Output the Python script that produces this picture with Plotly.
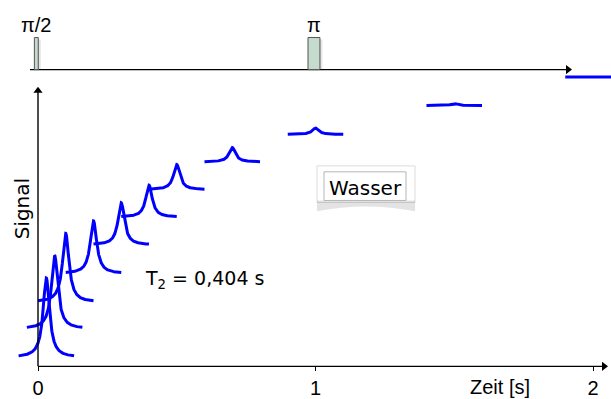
import numpy as np
import plotly.graph_objects as go

# ---- data ----
times = [0.03, 0.06, 0.1, 0.2, 0.3, 0.4, 0.5, 0.7, 1.0, 1.5, 2.0]          # s
baselines = [0.32, 1.34, 2.29, 3.31, 4.33, 5.32, 6.30, 7.29, 8.27, 9.30, 10.32]
peak_heights = [2.83, 2.62, 2.45, 1.88, 1.50, 1.14, 0.90, 0.51, 0.23, 0.07, 0.02]
tick_vals = [0, 1, 2]
tick_text = ["0", "1", "2"]
pulse_labels = ["π/2", "π"]
pulse_x0 = [-0.013, 0.973]
pulse_x1 = [0.001, 1.016]
spec_half_span = 0.1
spec_hwhm = 0.014
t2_text = "T<sub>2</sub> = 0,404 s"
sample_text = "Wasser"

# ---- pixel helpers for layout (decoration placement only) ----
X0PX, PXPS = 38.0, 277.5
Y0PX, PXPU = 371.0, 28.4
def X(px): return (px - X0PX) / PXPS
def Y(py): return (Y0PX - py) / PXPU

BLUE = "#0000ff"
fig = go.Figure()
for t, b, h in zip(times, baselines, peak_heights):
    xs = np.linspace(t - spec_half_span, t + spec_half_span, 801)
    ys = b + h * spec_hwhm**2 / (spec_hwhm**2 + (xs - t) ** 2)
    fig.add_trace(go.Scatter(x=xs, y=ys, mode="lines",
                             line=dict(color=BLUE, width=3),
                             hoverinfo="skip", showlegend=False))

shapes = []
ann = []
# axis / time lines with arrow heads
def arrow_line(x0, y0, x1, y1, symbol):
    shapes.append(dict(type="line", xref="x", yref="y", x0=x0, y0=y0, x1=x1, y1=y1,
                       line=dict(color="black", width=1.4)))
    fig.add_trace(go.Scatter(x=[x1], y=[y1], mode="markers",
                             marker=dict(symbol=symbol, size=8, color="black",
                                         line=dict(width=0)),
                             hoverinfo="skip", showlegend=False))
arrow_line(0, 0, X(604), 0, "triangle-right")
arrow_line(0, 0, 0, Y(92), "triangle-up")
arrow_line(X(30), Y(70.5), X(568), Y(70.5), "triangle-right")

# pulses
for x0, x1, lab in zip(pulse_x0, pulse_x1, pulse_labels):
    shapes.append(dict(type="rect", xref="x", yref="y", x0=x1, x1=x1 + 2.5 / PXPS,
                       y0=Y(70), y1=Y(40), fillcolor="rgba(0,0,0,0.10)", line=dict(width=0)))
    shapes.append(dict(type="rect", xref="x", yref="y", x0=x0, x1=x1,
                       y0=Y(70.5), y1=Y(38), fillcolor="#c4dbce",
                       line=dict(color="#555555", width=1)))
    ann.append(dict(x=(x0 + x1) / 2, y=Y(25), xref="x", yref="y", text=lab,
                    showarrow=False, font=dict(family="Liberation Sans", size=20, color="black"),
                    xanchor="center", yanchor="middle"))

# Wasser box
shapes.append(dict(type="rect", xref="x", yref="y", x0=X(317), x1=X(415), y0=Y(205), y1=Y(168),
                   fillcolor="white", line=dict(color="#dddddd", width=1)))
shapes.append(dict(type="path", xref="x", yref="y",
                   path=f"M {X(317)},{Y(203)} L {X(415)},{Y(203)} L {X(415)},{Y(214)} "
                        f"Q {X(366)},{Y(204)} {X(317)},{Y(214)} Z",
                   fillcolor="rgba(0,0,0,0.11)", line=dict(width=0)))
shapes.append(dict(type="rect", xref="x", yref="y", x0=X(324), x1=X(406), y0=Y(203), y1=Y(174),
                   fillcolor="white", line=dict(color="#b5b5b5", width=1)))
ann.append(dict(x=X(365), y=Y(190), xref="x", yref="y", text=sample_text, showarrow=False,
                font=dict(family="DejaVu Sans", size=20, color="black"),
                xanchor="center", yanchor="middle"))

# T2 label
ann.append(dict(x=X(143), y=Y(283), xref="x", yref="y", text=t2_text, showarrow=False,
                font=dict(family="DejaVu Sans", size=19, color="black"),
                xanchor="left", yanchor="middle"))
# Signal label
ann.append(dict(x=X(22), y=Y(212), xref="x", yref="y", text="Signal", showarrow=False,
                textangle=-90, font=dict(family="DejaVu Sans", size=20, color="black"),
                xanchor="center", yanchor="middle"))
# x axis title
ann.append(dict(x=X(500), y=Y(392), xref="x", yref="y", text="Zeit [s]", showarrow=False,
                font=dict(family="Liberation Sans", size=20, color="black"),
                xanchor="center", yanchor="middle"))

fig.update_layout(
    width=611, height=399, margin=dict(l=0, r=0, t=0, b=0),
    paper_bgcolor="white", plot_bgcolor="white",
    xaxis=dict(range=[X(0), X(611)], anchor="free", position=(399 - Y0PX) / 399,
               tickvals=tick_vals, ticktext=tick_text, ticks="outside", ticklen=4,
               tickcolor="black", tickwidth=1, showline=False, showgrid=False, zeroline=False,
               tickfont=dict(family="Liberation Sans", size=20, color="black")),
    yaxis=dict(range=[Y(399), Y(0)], showgrid=False, zeroline=False, showticklabels=False,
               ticks="", showline=False),
    shapes=shapes, annotations=ann, showlegend=False,
)
fig.write_html("out.html", config={"displayModeBar": False},
               post_script="document.body.style.margin='0px';")
